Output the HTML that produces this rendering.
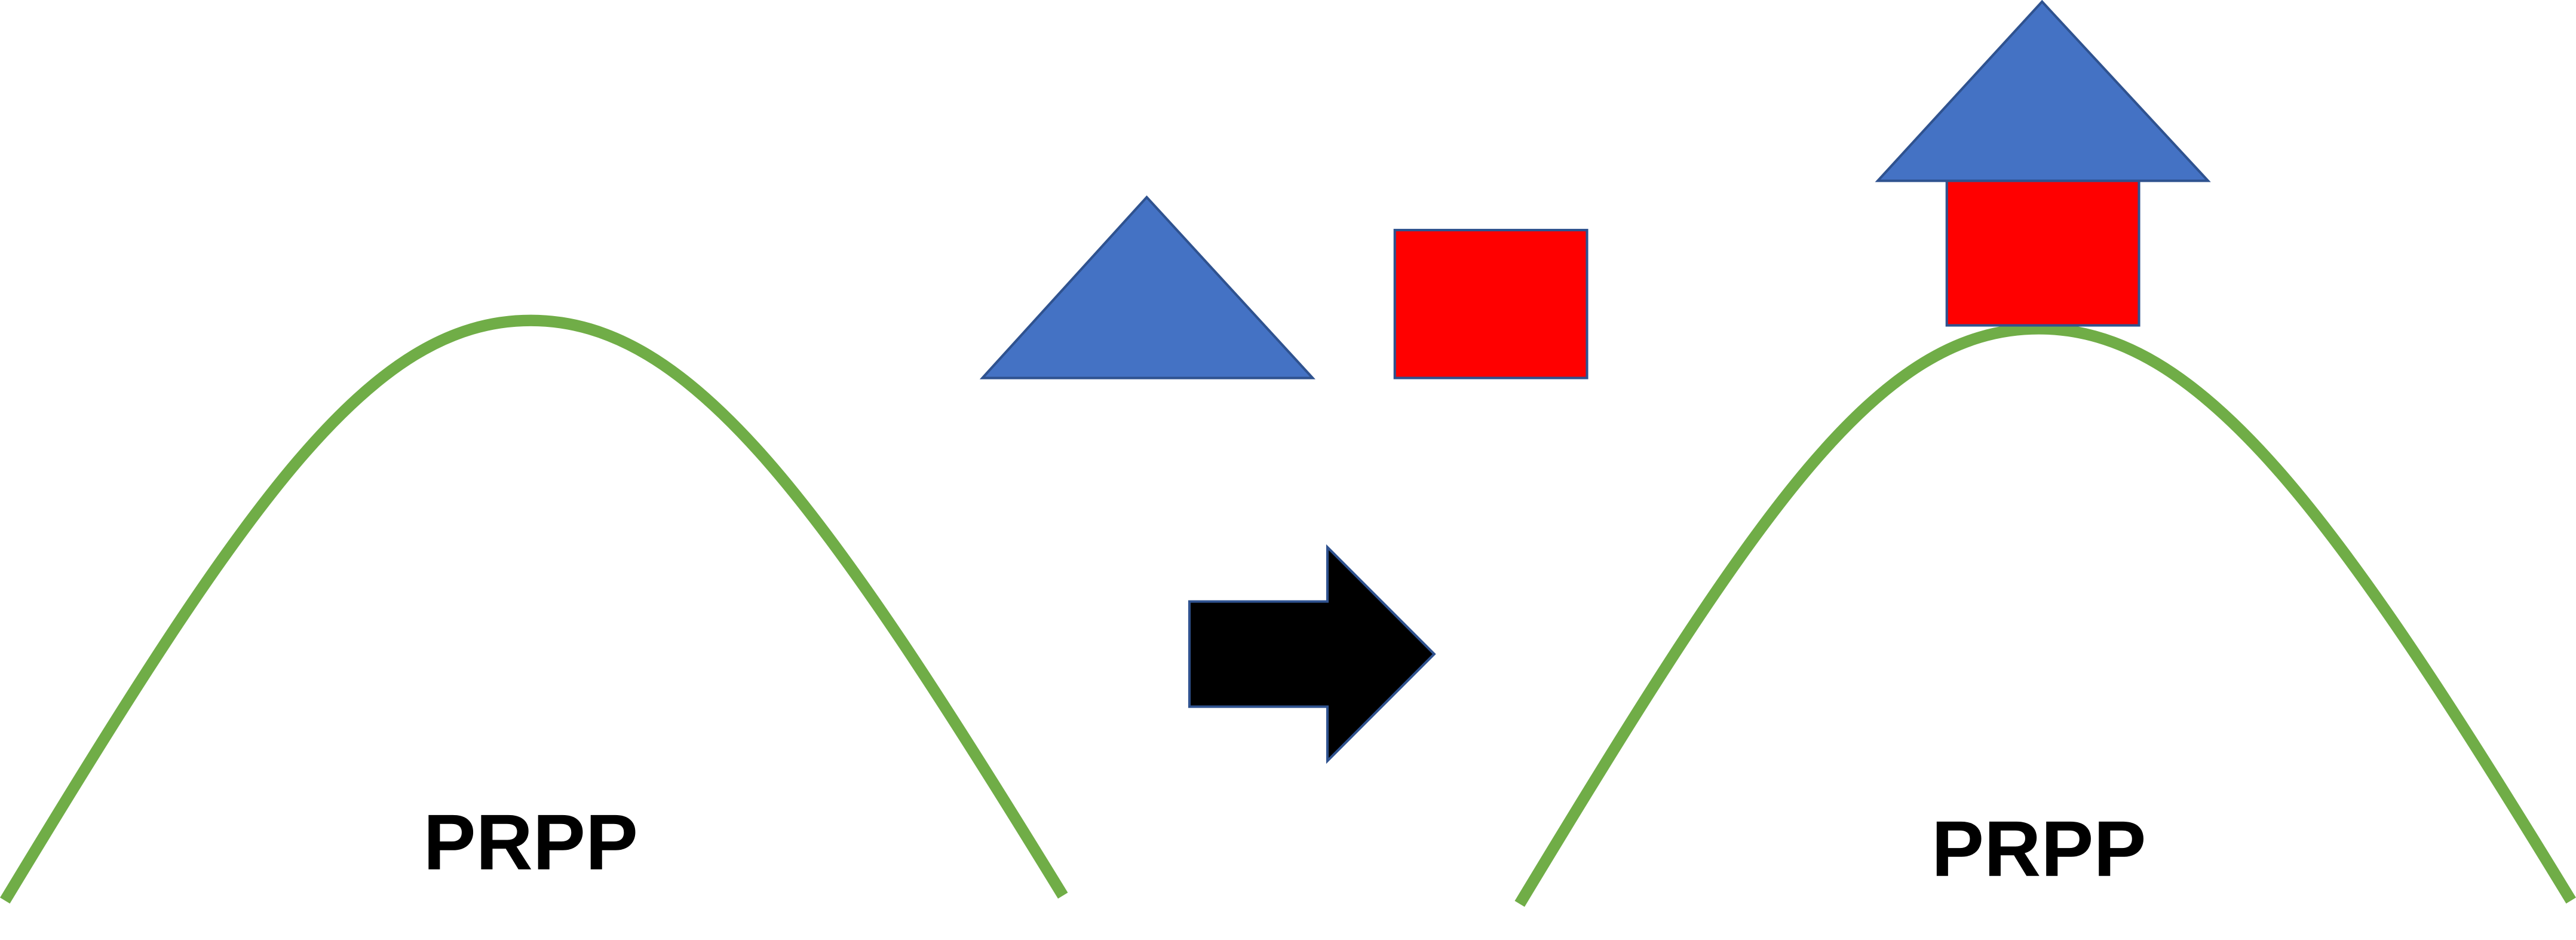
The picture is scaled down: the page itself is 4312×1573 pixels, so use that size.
<!DOCTYPE html>
<html><head><meta charset="utf-8"><style>
html,body{margin:0;padding:0;background:#fff;}
svg{display:block;}
</style></head><body>
<svg width="4312" height="1573" viewBox="0 0 1568 572" preserveAspectRatio="none" xmlns="http://www.w3.org/2000/svg">
<rect width="1568" height="572" fill="#fff"/>
<path d="M3,548 C150,305 225,195 323,195 C421,195 500,305 647,545" fill="none" stroke="#70AD47" stroke-width="7"/>
<polygon points="698,120 799,230 598,230" fill="#4472C4" stroke="#2F528F" stroke-width="1.5"/>
<rect x="849" y="140" width="117" height="90" fill="#FF0000" stroke="#2F528F" stroke-width="1.5"/>
<polygon points="724,366 808,366 808,333 873,398 808,463 808,430 724,430" fill="#000" stroke="#2F528F" stroke-width="1.5"/>
<path d="M925,550 C1070,310 1143,200 1241,200 C1339,200 1420,310 1565,548" fill="none" stroke="#70AD47" stroke-width="7"/>
<rect x="1185" y="108" width="117" height="90" fill="#FF0000" stroke="#2F528F" stroke-width="1.5"/>
<polygon points="1243,1 1344,110 1143,110" fill="#4472C4" stroke="#2F528F" stroke-width="1.5"/>
<text x="323" y="529" text-anchor="middle" font-family="Liberation Sans, sans-serif" font-weight="bold" font-size="48" fill="#000">PRPP</text>
<text x="1241" y="533" text-anchor="middle" font-family="Liberation Sans, sans-serif" font-weight="bold" font-size="48" fill="#000">PRPP</text>
</svg>
</body></html>
